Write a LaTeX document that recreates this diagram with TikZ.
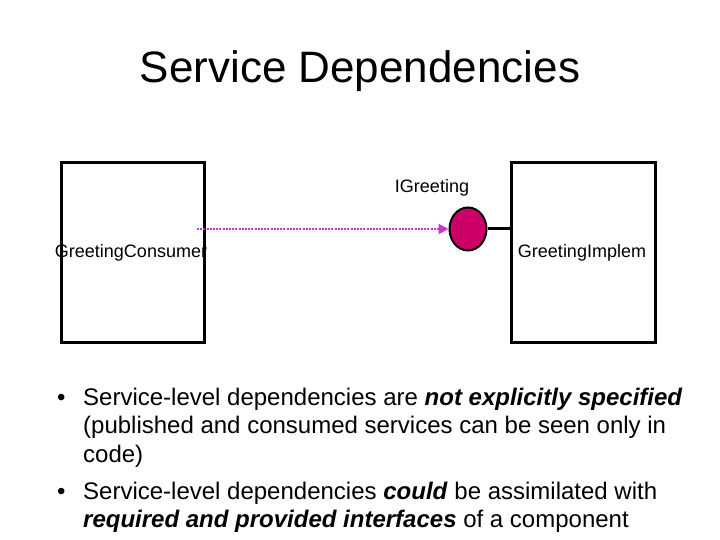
\documentclass[tikz,border=0pt]{standalone}
\usepackage{fontspec}
\setmainfont{Liberation Sans}
\usetikzlibrary{arrows.meta,shapes.geometric}
\definecolor{arrowmag}{RGB}{204,51,204}
\definecolor{ifacefill}{RGB}{204,0,102}
\begin{document}
\begin{tikzpicture}[x=1pt,y=-1pt,
  compbox/.style={draw=black,line width=3pt,fill=white},
  lbl/.style={font=\fontsize{18}{21}\selectfont,anchor=base,inner sep=0pt},
  bul/.style={font=\fontsize{24}{29}\selectfont,anchor=base west,inner sep=0pt},
  dep/.style={arrowmag,line width=2pt,dash pattern=on 2pt off 1.2pt,-{Triangle[length=10pt,width=10pt,fill=arrowmag]}}
]
\useasboundingbox[fill=white] (0,0) rectangle (720,540);
\node[font=\fontsize{44}{53}\selectfont,anchor=base,inner sep=0pt] (title) at (360,83) {Service Dependencies};

\draw[compbox] (61,163) rectangle (204,342);
\coordinate (consumerE) at (197,229);
\draw[compbox] (511,163) rectangle (655,342);
\coordinate (implW) at (511,229);

\node[lbl] (consumer) at (131,258) {GreetingConsumer};
\node[lbl] (impl) at (582,258) {GreetingImplem};

\node[ellipse,draw=black,line width=2pt,fill=ifacefill,minimum width=37pt,minimum height=43pt,inner sep=0pt] (iface) at (468,229) {};
\node[lbl] (ifacelbl) at (432,193) {IGreeting};

\draw[line width=3pt] (iface.east) -- (implW);
\draw[dep] (consumerE) -- (iface.west);

\node[bul] (b1) at (57,405) {•};
\node[bul] (l1) at (83,405) {Service-level dependencies are \textbf{\textit{not explicitly specified}}};
\node[bul] (l2) at (83,433) {(published and consumed services can be seen only in};
\node[bul] (l3) at (83,462) {code)};
\node[bul] (b2) at (57,499) {•};
\node[bul] (l4) at (83,499) {Service-level dependencies \textbf{\textit{could}} be assimilated with};
\node[bul] (l5) at (83,527) {\textbf{\textit{required and provided interfaces}} of a component};
\end{tikzpicture}
\end{document}
